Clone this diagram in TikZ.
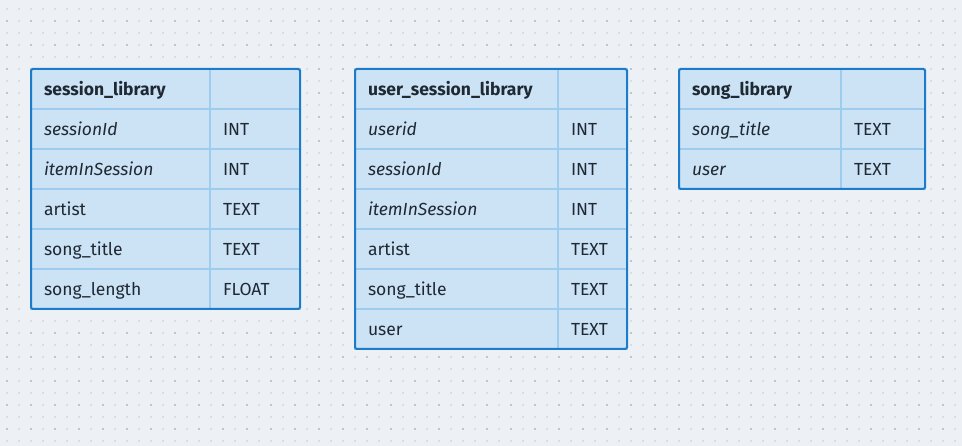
\documentclass[tikz,border=0pt]{standalone}
\usepackage{fontspec}
\setmainfont{Fira Sans}
\definecolor{bg}{HTML}{EDF1F5}
\definecolor{dotl}{HTML}{D6DDE4}
\definecolor{dotd}{HTML}{BAC6D1}
\definecolor{cellfill}{HTML}{CCE2F5}
\definecolor{inner}{HTML}{9ECCEE}
\definecolor{outer}{HTML}{1C7CCB}
\definecolor{txt}{HTML}{1F2933}
\tikzset{
  cellbase/.style={rectangle, fill=cellfill, draw=inner, line width=1.5pt, anchor=north west,
    outer sep=0pt, minimum height=40pt, inner xsep=13pt, inner ysep=0pt, align=left, text=txt,
    font=\fontsize{17.5}{20}\selectfont, text height=13.5pt, text depth=0pt},
  hd/.style={cellbase, font=\fontsize{17.5}{20}\selectfont\bfseries},
  it/.style={cellbase, font=\fontsize{17.5}{20}\selectfont\itshape},
  rg/.style={cellbase},
  outerbox/.style={draw=outer, line width=2pt, rounded corners=1.5pt}
}
\begin{document}
\begin{tikzpicture}[x=1pt,y=-1pt]
\fill[bg] (0,0) rectangle (962,446);
\useasboundingbox (0,0) rectangle (962,446);
\foreach \x in {7,19,...,955} \foreach \y in {9,21,...,441} \fill[dotl] (\x-1,\y-1) rectangle +(2,2);
\foreach \x in {7,31,...,955} \foreach \y in {21,45,...,441} \fill[dotd] (\x-1,\y-1) rectangle +(2,2);

% table 1
\node[hd, text width=153pt] (a0l) at (31,69) {session\_library};
\node[rg, text width=64pt] (a0r) at (210,69) {};
\node[it, text width=153pt] (a1l) at (31,109) {sessionId};
\node[rg, text width=64pt] (a1r) at (210,109) {INT};
\node[it, text width=153pt] (a2l) at (31,149) {itemInSession};
\node[rg, text width=64pt] (a2r) at (210,149) {INT};
\node[rg, text width=153pt] (a3l) at (31,189) {artist};
\node[rg, text width=64pt] (a3r) at (210,189) {TEXT};
\node[rg, text width=153pt] (a4l) at (31,229) {song\_title};
\node[rg, text width=64pt] (a4r) at (210,229) {TEXT};
\node[rg, text width=153pt] (a5l) at (31,269) {song\_length};
\node[rg, text width=64pt] (a5r) at (210,269) {FLOAT};
\draw[outerbox] (a0l.north west) rectangle (a5r.south east);

% table 2
\node[hd, text width=177pt] (b0l) at (355,69) {user\_session\_library};
\node[rg, text width=43pt] (b0r) at (558,69) {};
\node[it, text width=177pt] (b1l) at (355,109) {userid};
\node[rg, text width=43pt] (b1r) at (558,109) {INT};
\node[it, text width=177pt] (b2l) at (355,149) {sessionId};
\node[rg, text width=43pt] (b2r) at (558,149) {INT};
\node[it, text width=177pt] (b3l) at (355,189) {itemInSession};
\node[rg, text width=43pt] (b3r) at (558,189) {INT};
\node[rg, text width=177pt] (b4l) at (355,229) {artist};
\node[rg, text width=43pt] (b4r) at (558,229) {TEXT};
\node[rg, text width=177pt] (b5l) at (355,269) {song\_title};
\node[rg, text width=43pt] (b5r) at (558,269) {TEXT};
\node[rg, text width=177pt] (b6l) at (355,309) {user};
\node[rg, text width=43pt] (b6r) at (558,309) {TEXT};
\draw[outerbox] (b0l.north west) rectangle (b6r.south east);

% table 3
\node[hd, text width=136pt] (c0l) at (679,69) {song\_library};
\node[rg, text width=58pt] (c0r) at (841,69) {};
\node[it, text width=136pt] (c1l) at (679,109) {song\_title};
\node[rg, text width=58pt] (c1r) at (841,109) {TEXT};
\node[it, text width=136pt] (c2l) at (679,149) {user};
\node[rg, text width=58pt] (c2r) at (841,149) {TEXT};
\draw[outerbox] (c0l.north west) rectangle (c2r.south east);
\end{tikzpicture}
\end{document}
